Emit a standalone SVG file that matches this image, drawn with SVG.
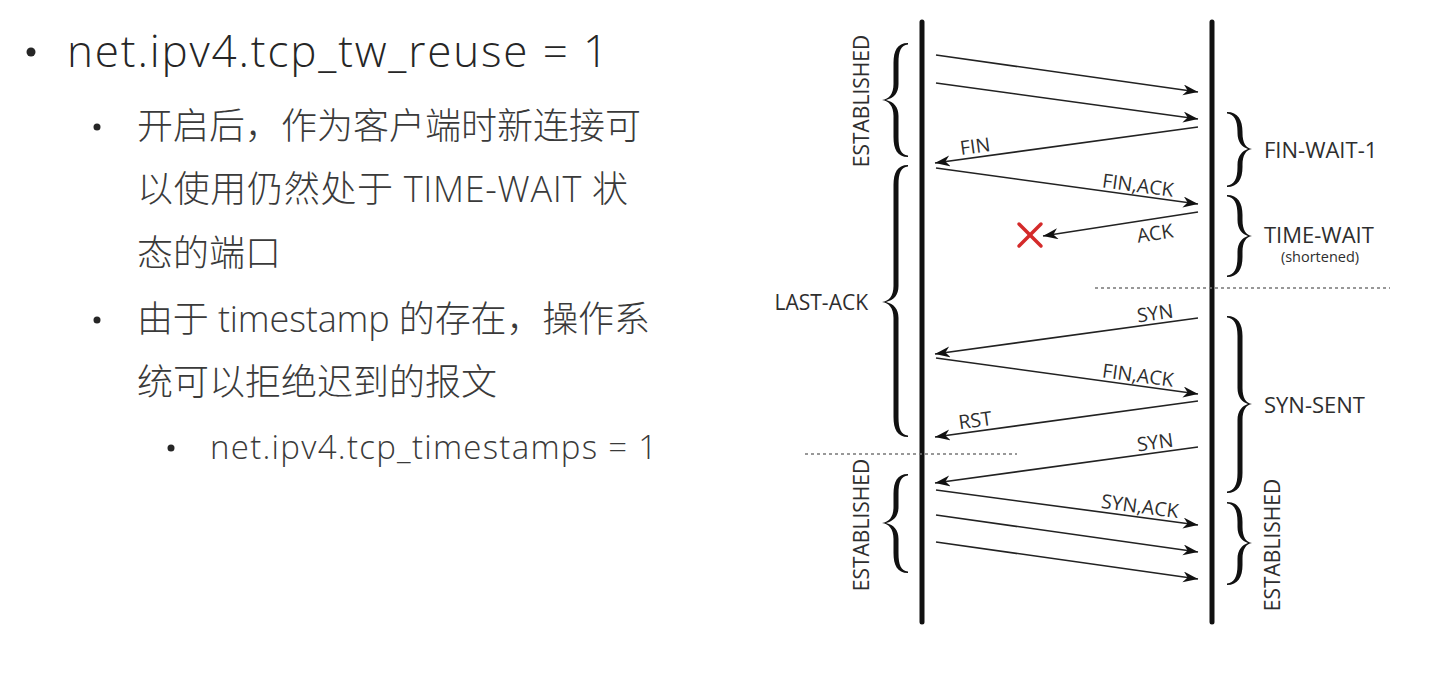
<svg xmlns="http://www.w3.org/2000/svg" width="1450" height="697" viewBox="0 0 1450 697">
<style>
.title{font-family:"Open Sans","Noto Sans CJK SC",sans-serif;font-size:44px;fill:#262626;font-weight:300}
.cjk{font-family:"Open Sans","Noto Sans CJK SC",sans-serif;font-size:36px;fill:#3a3a3a;font-weight:300}
.sub3{font-family:"Open Sans","Noto Sans CJK SC",sans-serif;font-size:33px;fill:#3a3a3a;font-weight:300}
.state{font-family:"Open Sans","DejaVu Sans",sans-serif;font-size:21px;fill:#2e2e2e}
.state2{font-family:"Open Sans","DejaVu Sans",sans-serif;font-size:22px;fill:#2e2e2e}
.small{font-family:"Open Sans","DejaVu Sans",sans-serif;font-size:14.5px;fill:#2e2e2e}
.lbl{font-family:"Open Sans","DejaVu Sans",sans-serif;font-size:19.5px;fill:#2e2e2e;text-anchor:middle}
.msg{stroke:#222;stroke-width:1.6;fill:none;marker-end:url(#ah)}
.life{stroke:#111;stroke-width:5;stroke-linecap:round}
.dash{stroke:#777;stroke-width:1.5;stroke-dasharray:3 3}
.brace{fill:#111}
.bul{fill:#262626}
</style>
<defs>
<marker id="ah" markerUnits="userSpaceOnUse" markerWidth="17" markerHeight="12" refX="15" refY="5.5" orient="auto">
<path d="M0,0 L15,5.5 L0,11 L4.5,5.5 Z" fill="#111"/>
</marker>
</defs>

<g id="text-block">
<circle class="bul" cx="31" cy="52" r="4.5"/>
<text class="title" x="67" y="67" textLength="541" lengthAdjust="spacing">net.ipv4.tcp_tw_reuse = 1</text>
<circle class="bul" cx="97" cy="127" r="3.5"/>
<text class="cjk" x="137" y="139">开启后，作为客户端时新连接可</text>
<text class="cjk" x="137" y="202" textLength="491" lengthAdjust="spacing">以使用仍然处于 TIME-WAIT 状</text>
<text class="cjk" x="137" y="266">态的端口</text>
<circle class="bul" cx="97" cy="320" r="3.5"/>
<text class="cjk" x="137" y="332" textLength="513" lengthAdjust="spacing">由于 timestamp 的存在，操作系</text>
<text class="cjk" x="137" y="395">统可以拒绝迟到的报文</text>
<circle class="bul" cx="171" cy="448" r="3.5"/>
<text class="sub3" x="210" y="459" textLength="447" lengthAdjust="spacing">net.ipv4.tcp_timestamps = 1</text>
</g>

<g id="lifelines">
<line class="life" x1="922" y1="22" x2="922" y2="622"/>
<line class="life" x1="1212" y1="22" x2="1212" y2="622"/>
<line class="dash" x1="1095" y1="288" x2="1390" y2="288"/>
<line class="dash" x1="805" y1="454" x2="1017" y2="454"/>
</g>

<g id="connectors">
<line class="msg" x1="936" y1="55" x2="1198" y2="92"/>
<line class="msg" x1="936" y1="83" x2="1198" y2="119"/>
<line class="msg" x1="1198" y1="127" x2="935" y2="163"/>
<line class="msg" x1="936" y1="168" x2="1198" y2="204"/>
<line class="msg" x1="1198" y1="212" x2="1043" y2="236"/>
<line class="msg" x1="1198" y1="318" x2="935" y2="354"/>
<line class="msg" x1="936" y1="358" x2="1198" y2="394"/>
<line class="msg" x1="1198" y1="401" x2="935" y2="437"/>
<line class="msg" x1="1198" y1="447" x2="935" y2="483"/>
<line class="msg" x1="936" y1="490" x2="1198" y2="525"/>
<line class="msg" x1="936" y1="515" x2="1198" y2="552"/>
<line class="msg" x1="936" y1="542" x2="1198" y2="579"/>
<text class="lbl" transform="translate(976,153) rotate(-7.8)">FIN</text>
<text class="lbl" transform="translate(1137,192) rotate(7.8)">FIN,ACK</text>
<text class="lbl" transform="translate(1156,240) rotate(-8.6)">ACK</text>
<text class="lbl" transform="translate(1156,320) rotate(-7.8)">SYN</text>
<text class="lbl" transform="translate(1137,382) rotate(7.8)">FIN,ACK</text>
<text class="lbl" transform="translate(976,427) rotate(-7.8)">RST</text>
<text class="lbl" transform="translate(1156,449) rotate(-7.8)">SYN</text>
<text class="lbl" transform="translate(1139,513) rotate(7.6)">SYN,ACK</text>
<g id="lost-mark" stroke="#d42a2a" stroke-width="3.5" stroke-linecap="round">
<line x1="1019" y1="224" x2="1041" y2="246"/>
<line x1="1041" y1="224" x2="1019" y2="246"/>
</g>
</g>

<g id="left-established-top">
<path class="brace" d="M908,43 C897,43 893.5,51 893.5,63 L893.5,84 C893.5,94 889,99 882,100 C889,101 893.5,106 893.5,116 L893.5,137 C893.5,149 897,157 908,157 L908,155.5 C901,155 898.5,149 898.5,137 L898.5,116 C898.5,107 894,102 886,100 C894,98 898.5,93 898.5,84 L898.5,63 C898.5,51 901,45 908,44.5 Z"/>
<text class="state" text-anchor="middle" transform="translate(869,101) rotate(-90)">ESTABLISHED</text>
</g>
<g id="left-last-ack">
<path class="brace" d="M908,165 C897,165 893.5,173 893.5,185 L893.5,286 C893.5,296 889,301 882,302 C889,303 893.5,308 893.5,318 L893.5,417 C893.5,429 897,437 908,437 L908,435.5 C901,435 898.5,429 898.5,417 L898.5,318 C898.5,309 894,304 886,302 C894,300 898.5,295 898.5,286 L898.5,185 C898.5,173 901,167 908,166.5 Z"/>
<text class="state" text-anchor="end" x="868" y="310">LAST-ACK</text>
</g>
<g id="left-established-bottom">
<path class="brace" d="M908,474 C897,474 893.5,482 893.5,494 L893.5,507 C893.5,517 889,522 882,523 C889,524 893.5,529 893.5,539 L893.5,553 C893.5,565 897,573 908,573 L908,571.5 C901,571 898.5,565 898.5,553 L898.5,539 C898.5,530 894,525 886,523 C894,521 898.5,516 898.5,507 L898.5,494 C898.5,482 901,476 908,475.5 Z"/>
<text class="state" text-anchor="middle" transform="translate(869,525) rotate(-90)">ESTABLISHED</text>
</g>
<g id="right-fin-wait-1">
<path class="brace" d="M1227,112 C1238,112 1242.5,120 1242.5,132 L1242.5,133 C1242.5,143 1246,148 1252,149 C1246,150 1242.5,155 1242.5,165 L1242.5,167 C1242.5,179 1238,187 1227,187 L1227,185.5 C1234,185 1237.5,179 1237.5,167 L1237.5,165 C1237.5,156 1242,151 1248,149 C1242,147 1237.5,142 1237.5,133 L1237.5,132 C1237.5,120 1234,114 1227,113.5 Z"/>
<text class="state2" x="1264" y="158">FIN-WAIT-1</text>
</g>
<g id="right-time-wait">
<path class="brace" d="M1227,195 C1238,195 1242.5,203 1242.5,215 L1242.5,220 C1242.5,230 1246,235 1252,236 C1246,237 1242.5,242 1242.5,252 L1242.5,257 C1242.5,269 1238,277 1227,277 L1227,275.5 C1234,275 1237.5,269 1237.5,257 L1237.5,252 C1237.5,243 1242,238 1248,236 C1242,234 1237.5,229 1237.5,220 L1237.5,215 C1237.5,203 1234,197 1227,196.5 Z"/>
<text class="state2" x="1264" y="243">TIME-WAIT</text>
<text class="small" x="1320" y="262" text-anchor="middle">(shortened)</text>
</g>
<g id="right-syn-sent">
<path class="brace" d="M1227,316 C1238,316 1242.5,324 1242.5,336 L1242.5,388 C1242.5,398 1246,403 1252,404 C1246,405 1242.5,410 1242.5,420 L1242.5,473 C1242.5,485 1238,493 1227,493 L1227,491.5 C1234,491 1237.5,485 1237.5,473 L1237.5,420 C1237.5,411 1242,406 1248,404 C1242,402 1237.5,397 1237.5,388 L1237.5,336 C1237.5,324 1234,318 1227,317.5 Z"/>
<text class="state2" x="1264" y="413">SYN-SENT</text>
</g>
<g id="right-established">
<path class="brace" d="M1227,502 C1238,502 1242.5,510 1242.5,522 L1242.5,527 C1242.5,537 1246,542 1252,543 C1246,544 1242.5,549 1242.5,559 L1242.5,565 C1242.5,577 1238,585 1227,585 L1227,583.5 C1234,583 1237.5,577 1237.5,565 L1237.5,559 C1237.5,550 1242,545 1248,543 C1242,541 1237.5,536 1237.5,527 L1237.5,522 C1237.5,510 1234,504 1227,503.5 Z"/>
<text class="state" text-anchor="middle" transform="translate(1280,545) rotate(-90)">ESTABLISHED</text>
</g>
</svg>
